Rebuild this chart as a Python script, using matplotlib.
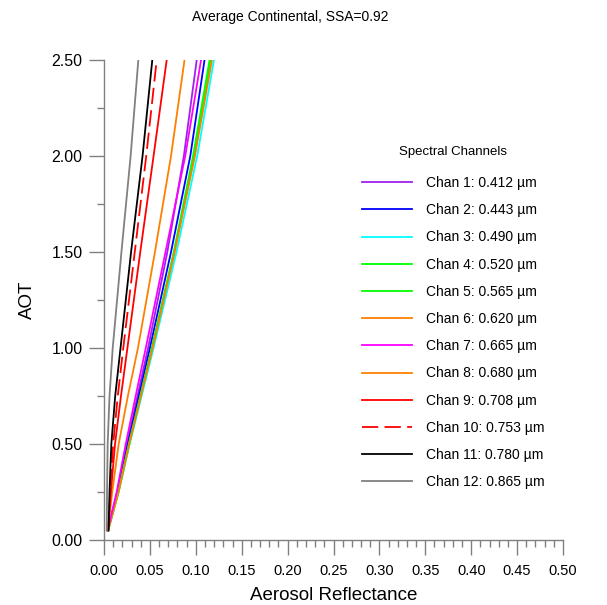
import matplotlib
matplotlib.use("Agg")
import matplotlib.pyplot as plt
from matplotlib.ticker import MultipleLocator, FormatStrFormatter

plt.rcParams['font.family'] = ['Liberation Sans', 'DejaVu Sans']

# AOT grid and aerosol reflectance per channel
aot = [0.05, 0.25, 0.5, 0.75, 1.0, 1.5, 2.0, 2.5]

chan_labels = ["Chan 1: 0.412 \u00b5m", "Chan 2: 0.443 \u00b5m", "Chan 3: 0.490 \u00b5m",
               "Chan 4: 0.520 \u00b5m", "Chan 5: 0.565 \u00b5m", "Chan 6: 0.620 \u00b5m",
               "Chan 7: 0.665 \u00b5m", "Chan 8: 0.680 \u00b5m", "Chan 9: 0.708 \u00b5m",
               "Chan 10: 0.753 \u00b5m", "Chan 11: 0.780 \u00b5m", "Chan 12: 0.865 \u00b5m"]

refl_ch1 = [0.0040, 0.0145, 0.0250, 0.0365, 0.0480, 0.0690, 0.0870, 0.1010]
refl_ch2 = [0.0040, 0.0150, 0.0260, 0.0380, 0.0500, 0.0730, 0.0940, 0.1095]
refl_ch3 = [0.0045, 0.0160, 0.0280, 0.0410, 0.0540, 0.0790, 0.1015, 0.1198]
refl_ch4 = [0.0045, 0.0155, 0.0270, 0.0395, 0.0520, 0.0760, 0.0970, 0.1150]
refl_ch5 = [0.0045, 0.0158, 0.0275, 0.0400, 0.0525, 0.0765, 0.0985, 0.1160]
refl_ch6 = [0.0045, 0.0158, 0.0275, 0.0402, 0.0530, 0.0770, 0.0990, 0.1176]
refl_ch7 = [0.0040, 0.0138, 0.0237, 0.0345, 0.0455, 0.0670, 0.0885, 0.1057]
refl_ch8 = [0.0040, 0.0090, 0.0160, 0.0260, 0.0370, 0.0555, 0.0730, 0.0877]
refl_ch9 = [0.0045, 0.0075, 0.0120, 0.0185, 0.0255, 0.0395, 0.0540, 0.0683]
refl_ch10 = [0.0045, 0.0068, 0.0100, 0.0150, 0.0210, 0.0335, 0.0460, 0.0574]
refl_ch11 = [0.0050, 0.0060, 0.0080, 0.0122, 0.0180, 0.0295, 0.0420, 0.0526]
refl_ch12 = [0.0030, 0.0033, 0.0040, 0.0060, 0.0095, 0.0190, 0.0290, 0.0374]

reflectances = [refl_ch1, refl_ch2, refl_ch3, refl_ch4, refl_ch5, refl_ch6,
                refl_ch7, refl_ch8, refl_ch9, refl_ch10, refl_ch11, refl_ch12]

colors = ['#a020f0', '#0000ff', '#00ffff', '#00ff00', '#00ff00', '#ff7f00',
          '#ff00ff', '#ff7f00', '#ff0000', '#ff0000', '#000000', '#808080']

W, H = 607, 605
fig = plt.figure(figsize=(W / 100, H / 100), dpi=100)
ax = fig.add_axes([104 / W, 1 - 540 / H, 459 / W, 480 / H])

for i, (refl, col, lab) in enumerate(zip(reflectances, colors, chan_labels)):
    if i == 9:
        ax.plot(refl, aot, color=col, lw=1.3, dashes=(9, 3.5), label=lab)
    else:
        ax.plot(refl, aot, color=col, lw=1.3, label=lab)

ax.set_xlim(0, 0.5)
ax.set_ylim(0, 2.5)

for s in ['top', 'right']:
    ax.spines[s].set_visible(False)
for s in ['left', 'bottom']:
    ax.spines[s].set_color('#808080')
    ax.spines[s].set_linewidth(1.0)

ax.xaxis.set_major_locator(MultipleLocator(0.05))
ax.xaxis.set_minor_locator(MultipleLocator(0.01))
ax.yaxis.set_major_locator(MultipleLocator(0.5))
ax.yaxis.set_minor_locator(MultipleLocator(0.25))
ax.xaxis.set_major_formatter(FormatStrFormatter('%.2f'))
ax.yaxis.set_major_formatter(FormatStrFormatter('%.2f'))

ax.tick_params(which='major', direction='out', length=11, width=1.0, color='#808080')
ax.tick_params(which='minor', direction='out', length=5, width=1.0, color='#808080')
ax.tick_params(axis='x', which='major', labelsize=10.5, pad=6)
ax.tick_params(axis='y', which='major', labelsize=11.5, pad=4.5)

ax.set_xlabel("Aerosol Reflectance", fontsize=13.5)
ax.xaxis.set_label_coords(0.5, -(595 - 540) / 480)
ax.xaxis.label.set_va('center')
ax.set_ylabel("AOT", fontsize=13.5)
ax.yaxis.set_label_coords(-(104 - 27) / 459, 0.5)
ax.yaxis.label.set_va('center')

fig.text(290 / W, 1 - 17 / H, "Average Continental, SSA=0.92",
         ha='center', va='center', fontsize=10)

fig.text(453 / W, 1 - 152 / H, "Spectral Channels", ha='center', va='center',
         fontsize=9.5)

leg = ax.legend(loc='upper left', bbox_to_anchor=(362 / W, 1 - 176 / H),
                bbox_transform=fig.transFigure, frameon=False, fontsize=10,
                handlelength=3.6, handletextpad=1.0, labelspacing=0.95,
                borderaxespad=0, borderpad=0)

fig.savefig("out.png", dpi=100)
